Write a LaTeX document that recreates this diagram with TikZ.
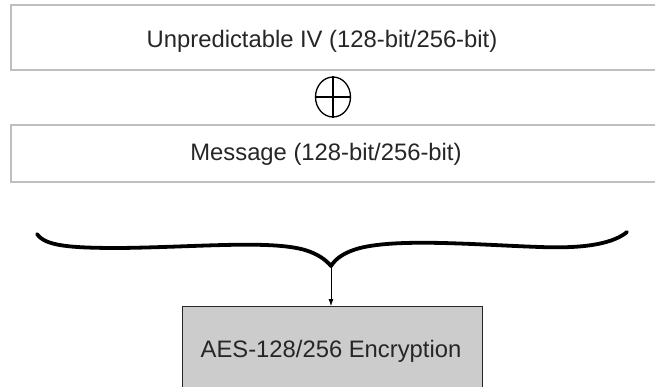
\documentclass[tikz,border=0pt]{standalone}
\usepackage{fontspec}
\setmainfont{Liberation Sans}
\usetikzlibrary{arrows.meta,shapes.geometric}
\begin{document}
\begin{tikzpicture}[x=1pt,y=-1pt,
  lightbox/.style={draw=black!25,line width=1.5pt},
  lbl/.style={font=\fontsize{23.8}{28}\selectfont,text=black!85,anchor=base,inner sep=0pt},
  bracestroke/.style={line width=3.8pt,line cap=round,line join=round,black}]
\useasboundingbox (0,0) rectangle (655,386);
\fill[white] (0,0) rectangle (655,386);
\draw[lightbox] (11,5) rectangle (662,70);
\node[lbl] (iv) at (322,47) {Unpredictable IV (128-bit/256-bit)};
\node[draw,ellipse,minimum width=35pt,minimum height=40pt,inner sep=0pt,line width=1.3pt] (xor) at (333,97) {};
\draw[line width=1.3pt] (xor.north) -- (xor.south) (xor.west) -- (xor.east);
\draw[lightbox] (11,125) rectangle (662,182);
\node[lbl] (msg) at (326,160) {Message (128-bit/256-bit)};
\coordinate (tip) at (331,266);
\draw[bracestroke] (37,234) .. controls (45,246) and (70,248) .. (120,248)
  .. controls (200,247) and (270,240) .. (305,250)
  .. controls (318,254) and (326,260) .. (tip)
  .. controls (336,258) and (345,252) .. (360,248)
  .. controls (400,238) and (480,245) .. (540,247)
  .. controls (590,249) and (615,242) .. (627,232);
\node[draw=black!85,fill=black!20,line width=1pt,minimum width=300pt,minimum height=100pt,anchor=north,inner sep=0pt] (aes) at (332,306) {};
\node[lbl] (aestext) at (331,357) {AES-128/256 Encryption};
\draw[-{Latex[length=7pt,width=5pt]},line width=0.8pt] (tip) -- (aes.north -| tip);
\end{tikzpicture}
\end{document}
